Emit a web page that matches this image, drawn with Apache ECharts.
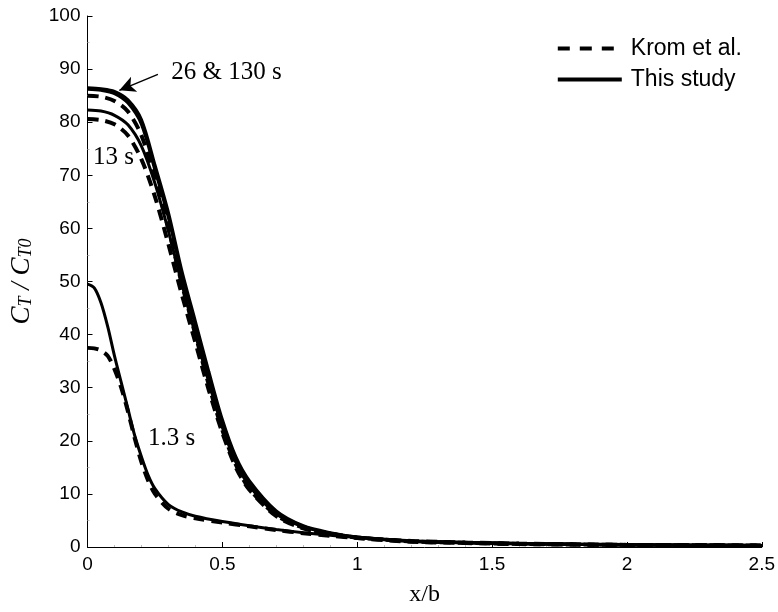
<!DOCTYPE html>
<html>
<head>
<meta charset="utf-8">
<script src="https://cdn.jsdelivr.net/npm/echarts@6/dist/echarts.min.js"></script>
<style>
  html, body { margin: 0; padding: 0; background: #fff; }
  #chart { width: 778px; height: 612px; }
</style>
</head>
<body>
<div id="chart"></div>
<script>
// x positions (x/b) for the curves
const xMain = [0, 0.05, 0.1, 0.15, 0.2, 0.25, 0.3, 0.35, 0.4, 0.45, 0.5, 0.55, 0.6, 0.7, 0.8, 0.9, 1.0, 1.2, 1.4, 1.6, 1.8, 2.0, 2.25, 2.5];
const xLow = [0, 0.025, 0.05, 0.075, 0.1, 0.125, 0.15, 0.175, 0.2, 0.225, 0.25, 0.3, 0.35, 0.4, 0.5, 0.6, 0.7, 0.8, 0.9, 1.0, 1.2, 1.4, 1.6, 1.8, 2.0, 2.25, 2.5];

// This study
const study1_3s = [49.5, 48.8, 46, 41.5, 36, 31, 26, 21, 17, 13.5, 11, 8, 6.6, 5.8, 4.8, 4.0, 3.3, 2.7, 2.2, 1.8, 1.2, 0.9, 0.7, 0.55, 0.45, 0.35, 0.3];
const study13s = [82.3, 82.1, 81.3, 79.5, 75.5, 68.5, 59.5, 49.5, 40, 31, 22.5, 16, 11.5, 6.2, 3.8, 2.6, 1.8, 1.1, 0.8, 0.6, 0.5, 0.4, 0.35, 0.3];
const study26s = [86.5, 86.3, 85.8, 84.2, 80.5, 72, 63, 52, 42.5, 33, 24, 17, 12.5, 6.8, 4.0, 2.7, 1.9, 1.1, 0.8, 0.6, 0.5, 0.4, 0.35, 0.3];
const study130s = [86.2, 86.0, 85.4, 83.6, 79.6, 71, 62, 51.2, 41.8, 32.3, 23.5, 16.6, 12, 6.5, 3.9, 2.6, 1.85, 1.1, 0.8, 0.6, 0.5, 0.4, 0.35, 0.3];

// Krom et al.
const krom1_3s = [37.5, 37.4, 37, 36, 33.5, 30, 25.5, 20.5, 16, 12.5, 10, 7.2, 6, 5.4, 4.6, 3.9, 3.2, 2.6, 2.1, 1.7, 1.15, 0.85, 0.65, 0.5, 0.4, 0.33, 0.28];
const krom13s = [80.6, 80.4, 79.6, 77.5, 73, 66, 57, 47.5, 38.5, 29.5, 21.5, 15, 10.8, 5.8, 3.5, 2.4, 1.7, 1.0, 0.75, 0.55, 0.45, 0.38, 0.32, 0.28];
const krom26s = [85.0, 84.8, 84.0, 82, 77.5, 69.5, 60, 49.5, 40, 30.5, 22, 15.5, 11, 6.0, 3.6, 2.5, 1.8, 1.05, 0.78, 0.58, 0.48, 0.4, 0.33, 0.28];

const yTicks = [0, 10, 20, 30, 40, 50, 60, 70, 80, 90, 100];
const xTicks = [0, 0.5, 1, 1.5, 2, 2.5];

// annotation positions in data units
const arrowFrom = [0.261, 89.0];
const arrowTo = [0.118, 86.0];
const labels = [
  { text: '26 & 130 s', at: [0.515, 89.4] },
  { text: '13 s', at: [0.096, 73.3] },
  { text: '1.3 s', at: [0.312, 20.4] }
];

const pairs = (xs, ys) => xs.map((x, i) => [x, ys[i]]);

const solid = { color: '#000', width: 3, type: 'solid' };
const dashed = { color: '#000', width: 4, type: [11, 7] };

const mkSeries = (name, xs, ys, style, z) => ({
  name: name,
  type: 'line',
  data: pairs(xs, ys),
  smooth: 0.3,
  symbol: 'none',
  color: '#000',
  lineStyle: style,
  z: z,
  animation: false
});

const series = [
  mkSeries('Krom et al.', xLow, krom1_3s, dashed, 2),
  mkSeries('Krom et al.', xMain, krom13s, dashed, 2),
  mkSeries('Krom et al.', xMain, krom26s, dashed, 2),
  mkSeries('This study', xLow, study1_3s, solid, 3),
  mkSeries('This study', xMain, study13s, solid, 3),
  mkSeries('This study', xMain, study26s, solid, 3),
  mkSeries('This study', xMain, study130s, solid, 3)
];

// annotations carried by an empty helper series
series.push({
  type: 'line',
  data: [],
  silent: true,
  markLine: {
    silent: true,
    symbol: ['none', 'arrow'],
    symbolSize: [12, 16],
    lineStyle: { color: '#000', width: 1.5, type: 'solid' },
    label: { show: false },
    data: [[{ coord: arrowFrom }, { coord: arrowTo }]]
  },
  markPoint: {
    silent: true,
    symbol: 'circle',
    symbolSize: 0,
    label: {
      show: true,
      position: 'inside',
      color: '#000',
      fontFamily: 'Liberation Serif',
      fontSize: 25,
      formatter: p => p.name
    },
    data: labels.map(l => ({ name: l.text, coord: l.at }))
  }
});

const chart = echarts.init(document.getElementById('chart'), null, { renderer: 'canvas' });

chart.setOption({
  backgroundColor: '#fff',
  animation: false,
  grid: { left: 86, right: 16, top: 16, bottom: 63 },
  legend: {
    orient: 'vertical',
    right: 31,
    top: 32,
    itemWidth: 64,
    itemHeight: 14,
    itemGap: 8,
    data: [
      { name: 'Krom et al.', lineStyle: { type: [12, 10], width: 4 } },
      { name: 'This study', lineStyle: { width: 4 } }
    ],
    itemStyle: { color: 'rgba(0,0,0,0)', borderWidth: 0, opacity: 0 },
    textStyle: { fontFamily: 'Liberation Sans', fontSize: 23, color: '#000', padding: [0, 0, 0, 4] },
    selectedMode: false
  },
  xAxis: {
    type: 'value',
    min: 0,
    max: 2.5,
    interval: 0.5,
    name: 'x/b',
    nameLocation: 'middle',
    nameGap: 36,
    nameTextStyle: { fontFamily: 'Liberation Serif', fontSize: 24, color: '#000' },
    axisLine: { lineStyle: { color: '#000', width: 1 } },
    axisTick: { inside: true, length: 5, lineStyle: { color: '#000' } },
    minorTick: { show: true, splitNumber: 5, length: 2, lineStyle: { color: '#bbb' } },
    splitLine: { show: false },
    axisLabel: {
      color: '#000', fontFamily: 'Liberation Sans', fontSize: 19, margin: 8,
      formatter: v => xTicks.includes(v) ? String(v) : ''
    }
  },
  yAxis: {
    type: 'value',
    min: 0,
    max: 100,
    interval: 10,
    name: '{i|C}{s|T}{i| / C}{s|T0}',
    nameLocation: 'middle',
    nameGap: 52,
    nameRotate: 90,
    nameTextStyle: {
      color: '#000',
      rich: {
        i: { fontFamily: 'Liberation Serif', fontStyle: 'italic', fontSize: 27, color: '#000' },
        s: { fontFamily: 'Liberation Serif', fontStyle: 'italic', fontSize: 18, color: '#000', verticalAlign: 'bottom', padding: [10, 0, 0, 0] }
      }
    },
    axisLine: { show: true, lineStyle: { color: '#000', width: 1 } },
    axisTick: { show: true, inside: true, length: 5, lineStyle: { color: '#000' } },
    minorTick: { show: true, splitNumber: 2, length: 2, lineStyle: { color: '#bbb' } },
    splitLine: { show: false },
    axisLabel: {
      color: '#000', fontFamily: 'Liberation Sans', fontSize: 19, margin: 7,
      formatter: v => yTicks.includes(v) ? String(v) : ''
    }
  },
  series: series
});

window.addEventListener('resize', () => chart.resize());
</script>
</body>
</html>
